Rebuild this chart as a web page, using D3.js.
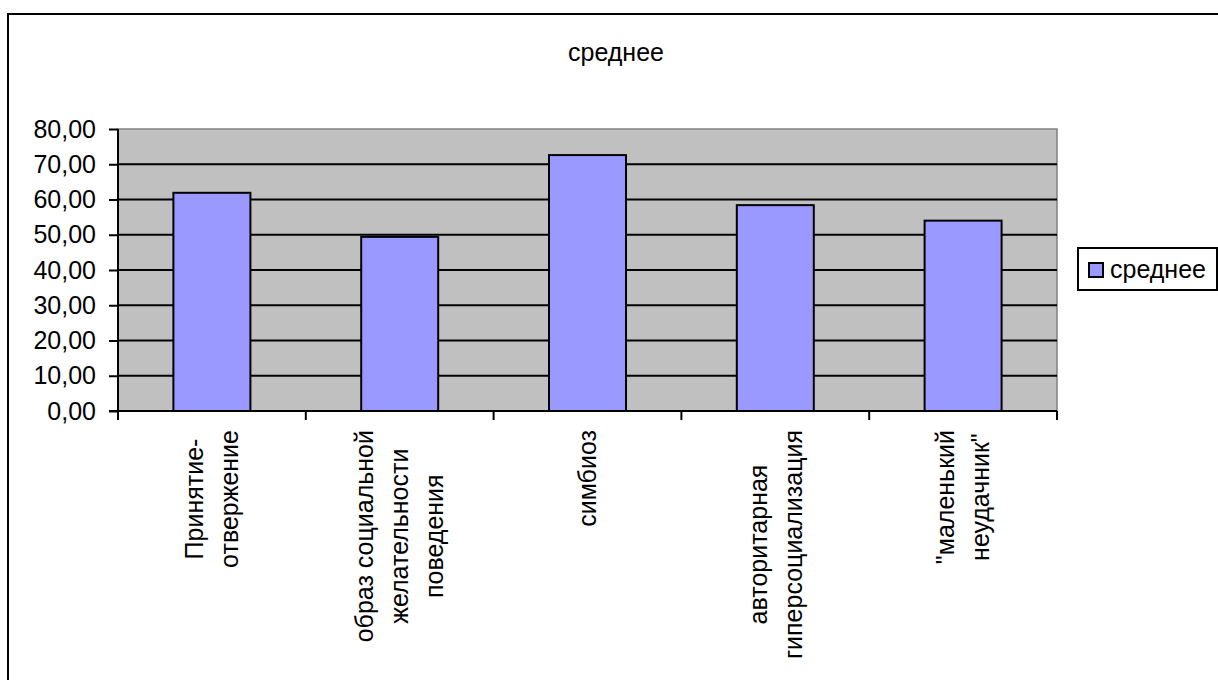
<!DOCTYPE html>
<html>
<head>
<meta charset="utf-8">
<script src="https://cdn.jsdelivr.net/npm/d3@7"></script>
<style>
  body { margin: 0; background: #fff; }
  text { font-family: "Liberation Sans", Arial, sans-serif; fill: #000; }
</style>
</head>
<body>
<div id="chart"></div>
<script>
// Data
const categories = [
   ["Принятие-", "отвержение"],
   ["образ социальной", "желательности", "поведения"],
   ["симбиоз"],
   ["авторитарная", "гиперсоциализация"],
   ["\"маленький", "неудачник\""]
];
const seriesName = "среднее";
const values = [61.9, 49.4, 72.6, 58.4, 54.0];
const yTicks = [0, 10, 20, 30, 40, 50, 60, 70, 80];

const width = 1218;
const height = 680;
const plot = { left: 118, right: 1057, top: 129, bottom: 411 };
const fontSize = 25;

const svg = d3.select("#chart")
              .append("svg")
              .attr("width", width)
              .attr("height", height);

// outer chart border (runs off the right and bottom of the picture)
svg.append("rect")
   .attr("x", 8).attr("y", 14)
   .attr("width", 1300).attr("height", 700)
   .attr("fill", "#fff")
   .attr("stroke", "#000")
   .attr("stroke-width", 2);

// title
svg.append("text")
   .attr("x", 616).attr("y", 61)
   .attr("text-anchor", "middle")
   .style("font-size", fontSize + "px")
   .text(seriesName);

// scales
const x = d3.scaleBand()
            .domain(d3.range(categories.length))
            .range([plot.left, plot.right])
            .paddingInner(0.59)
            .paddingOuter(0.295);
const y = d3.scaleLinear()
            .domain([0, 80])
            .range([plot.bottom, plot.top]);

// plot area background
svg.append("rect")
   .attr("x", plot.left).attr("y", plot.top)
   .attr("width", plot.right - plot.left)
   .attr("height", plot.bottom - plot.top)
   .attr("fill", "#c0c0c0")
   .attr("stroke", "#808080")
   .attr("stroke-width", 1.5);

// gridlines
svg.append("g")
   .selectAll("line")
   .data(yTicks.filter(t => t > 0 && t < 80))
   .enter().append("line")
   .attr("x1", plot.left).attr("x2", plot.right)
   .attr("y1", d => y(d)).attr("y2", d => y(d))
   .attr("stroke", "#000")
   .attr("stroke-width", 2);

// bars
svg.append("g")
   .selectAll("rect")
   .data(values)
   .enter().append("rect")
   .attr("x", (d, i) => x(i))
   .attr("width", x.bandwidth())
   .attr("y", d => y(d))
   .attr("height", d => y(0) - y(d))
   .attr("fill", "#9999ff")
   .attr("stroke", "#000")
   .attr("stroke-width", 2);

// y axis
const yAxis = d3.axisLeft(y)
                .tickValues(yTicks)
                .tickSize(9)
                .tickPadding(13)
                .tickFormat(d => d3.format(".2f")(d).replace(".", ","));
const gY = svg.append("g")
              .attr("transform", `translate(${plot.left},0)`)
              .call(yAxis);
gY.select(".domain").attr("stroke", "#000").attr("stroke-width", 2)
  .attr("d", `M0,${plot.top}V${plot.bottom}`);
gY.selectAll(".tick line").attr("stroke", "#000").attr("stroke-width", 2);
gY.selectAll(".tick text")
  .style("font-size", fontSize + "px")
  .style("font-family", "'Liberation Sans', Arial, sans-serif")
  .attr("fill", "#000");

// x axis: ticks between categories
const boundaries = d3.range(categories.length + 1).map(i => plot.left + i * x.step());
svg.append("line")
   .attr("x1", plot.left - 9).attr("x2", plot.right)
   .attr("y1", plot.bottom).attr("y2", plot.bottom)
   .attr("stroke", "#000").attr("stroke-width", 2);
svg.append("g")
   .selectAll("line")
   .data(boundaries)
   .enter().append("line")
   .attr("x1", d => d).attr("x2", d => d)
   .attr("y1", plot.bottom).attr("y2", plot.bottom + 9)
   .attr("stroke", "#000").attr("stroke-width", 2);

// category labels, rotated, lines centred on each other
const lineGap = 35;
const labelTop = 430;
const labels = svg.append("g")
   .selectAll("g")
   .data(categories)
   .enter().append("g")
   .attr("transform", (d, i) => `translate(${x(i) + x.bandwidth() / 2},${labelTop}) rotate(-90)`);
labels.each(function (lines) {
   const g = d3.select(this);
   const texts = g.selectAll("text")
      .data(lines)
      .enter().append("text")
      .attr("text-anchor", "middle")
      .attr("dy", "0.35em")
      .attr("y", (d, j) => (j - (lines.length - 1) / 2) * lineGap)
      .style("font-size", fontSize + "px")
      .text(d => d);
   const maxLen = d3.max(texts.nodes(), n => n.getComputedTextLength());
   texts.attr("x", -maxLen / 2);
});

// legend
const legend = svg.append("g");
legend.append("rect")
   .attr("x", 1078).attr("y", 248)
   .attr("width", 139).attr("height", 42)
   .attr("fill", "#fff")
   .attr("stroke", "#000")
   .attr("stroke-width", 2);
legend.append("rect")
   .attr("x", 1089).attr("y", 263)
   .attr("width", 14).attr("height", 14)
   .attr("fill", "#9999ff")
   .attr("stroke", "#000")
   .attr("stroke-width", 2);
legend.append("text")
   .attr("x", 1110).attr("y", 278)
   .style("font-size", fontSize + "px")
   .text(seriesName);
</script>
</body>
</html>
